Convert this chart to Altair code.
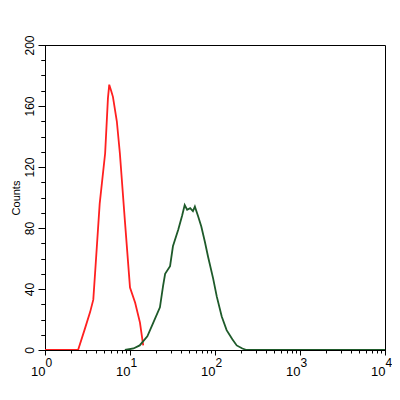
import altair as alt
import pandas as pd

# Red histogram (control)
red_x = [1, 1.5, 2.0, 2.45, 2.95, 3.4, 3.7, 3.9, 4.4, 5.1, 5.5, 5.7, 6.0, 6.3, 7.0, 7.6, 8.7, 10.0, 11.5, 13.1, 14.3]
red_y = [0, 0, 0, 0, 14, 25, 33, 52, 96, 129, 165, 174, 170, 166, 150, 129, 85, 41, 31, 18, 3]

# Green histogram (sample)
green_x = [8.7, 11, 13, 16, 18.8, 22.5, 24.5, 25.9, 29.6, 32, 37, 41, 44, 47, 51, 55, 58, 63, 69, 76, 83, 95, 105, 120, 137, 160, 180, 210, 235, 300, 1000, 10000]
green_y = [0, 1, 3, 9, 18, 28, 42, 50, 55, 68, 79, 88, 95, 92, 93, 91, 94, 88, 81, 71, 61, 47, 35, 22, 13, 7, 3, 1, 0, 0, 0, 0]

x_major = [1, 10, 100, 1000, 10000]
x_minor = [m * d for d in [1, 10, 100, 1000] for m in range(2, 10)]
y_major = [0, 40, 80, 120, 160, 200]
y_minor = list(range(0, 201, 10))

red = pd.DataFrame({"x": red_x, "y": red_y})
green = pd.DataFrame({"x": green_x, "y": green_y})

FONT = "Liberation Sans"
xscale = alt.Scale(type="log", domain=[1, 10000], nice=False)
yscale = alt.Scale(domain=[0, 200], nice=False)

x_main = alt.Axis(orient="bottom", values=x_major, tickSize=5, labelExpr="'10'", labelFontSize=13,
                  labelPadding=10, labelAlign="right", labelBaseline="top",
                  title=None, labelFlush=False, labelOverlap=False)
x_min = alt.Axis(orient="bottom", values=x_minor, tickSize=3, labels=False, title=None)
x_exp = alt.Axis(orient="bottom", values=x_major, tickSize=0, domain=False,
                 labelExpr="format(log(datum.value)/log(10), '.0f')",
                 labelFontSize=12, labelPadding=7, labelAlign="left", labelBaseline="top",
                 title=None, labelFlush=False, labelOverlap=False)

y_main = alt.Axis(orient="left", values=y_major, tickSize=7, labelAngle=270, labelFontSize=12,
                  labelPadding=2, title="Counts", titleFontSize=11,
                  titleFontWeight="normal", titlePadding=2, labelFlush=False)
y_min = alt.Axis(orient="left", values=y_minor, tickSize=4, labels=False, title=None)
y_none = alt.Axis(orient="left", values=y_minor, tickSize=4, labels=False, title=None, domain=False)

red_line = alt.Chart(red).mark_line(color="#ff2020", strokeWidth=1.8, clip=True).encode(
    x=alt.X("x:Q", scale=xscale, axis=x_main),
    y=alt.Y("y:Q", scale=yscale, axis=y_main),
)

green_line = alt.Chart(green).mark_line(color="#1e5a2a", strokeWidth=1.8, clip=True).encode(
    x=alt.X("x:Q", scale=xscale, axis=x_min),
    y=alt.Y("y:Q", scale=yscale, axis=y_min),
)

exp_layer = alt.Chart(green).mark_line(opacity=0).encode(
    x=alt.X("x:Q", scale=xscale, axis=x_exp),
    y=alt.Y("y:Q", scale=yscale, axis=y_none),
)

chart = alt.layer(red_line, green_line, exp_layer).resolve_axis(
    x="independent", y="independent"
).properties(
    width=340, height=305,
    autosize=alt.AutoSizeParams(type="none"),
    padding={"left": 37, "top": 37, "right": 7, "bottom": 40},
    background="white",
).configure_view(stroke="black", strokeWidth=1).configure_axis(
    grid=False, domainColor="black", tickColor="black", labelColor="black",
    titleColor="black", labelFont=FONT, titleFont=FONT,
)

chart.save("out.html", embed_options={"renderer": "svg", "actions": False})
